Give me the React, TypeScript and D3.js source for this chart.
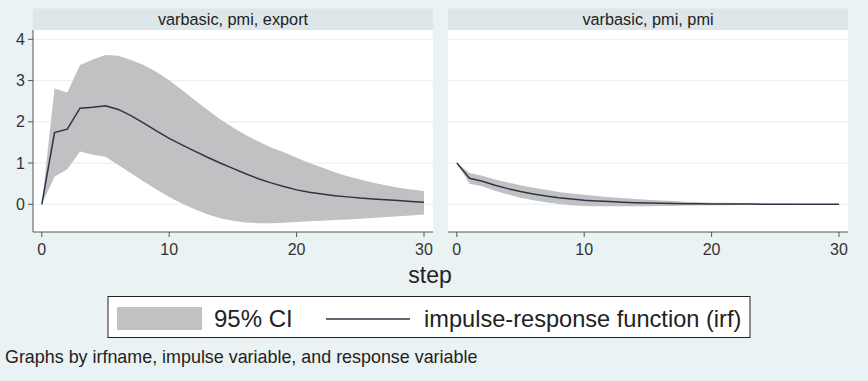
import React from "react";
import * as d3 from "d3";

const steps = d3.range(0, 31);

const exportIrf = [0, 1.74, 1.82, 2.33, 2.35, 2.39, 2.3, 2.15, 1.97, 1.78, 1.6, 1.44, 1.29, 1.14, 1.0, 0.87, 0.74, 0.62, 0.52, 0.43, 0.35, 0.29, 0.25, 0.21, 0.18, 0.15, 0.13, 0.11, 0.09, 0.07, 0.05];
const exportLo = [0, 0.67, 0.85, 1.28, 1.2, 1.15, 0.95, 0.75, 0.55, 0.36, 0.18, 0.02, -0.12, -0.24, -0.34, -0.4, -0.44, -0.46, -0.46, -0.45, -0.43, -0.41, -0.4, -0.38, -0.37, -0.35, -0.33, -0.31, -0.29, -0.27, -0.25];
const exportHi = [0, 2.81, 2.71, 3.38, 3.51, 3.62, 3.6, 3.5, 3.38, 3.21, 3.01, 2.77, 2.53, 2.29, 2.06, 1.86, 1.68, 1.52, 1.38, 1.26, 1.13, 1.0, 0.89, 0.78, 0.68, 0.6, 0.52, 0.46, 0.4, 0.36, 0.32];

const pmiIrf = [1.0, 0.63, 0.56, 0.46, 0.38, 0.31, 0.25, 0.2, 0.16, 0.13, 0.1, 0.08, 0.065, 0.05, 0.04, 0.03, 0.025, 0.02, 0.015, 0.012, 0.01, 0.008, 0.006, 0.005, 0.004, 0.003, 0.002, 0.002, 0.001, 0.001, 0.001];
const pmiLo = [1.0, 0.5, 0.44, 0.33, 0.24, 0.16, 0.1, 0.05, 0.01, -0.02, -0.04, -0.05, -0.05, -0.05, -0.05, -0.05, -0.04, -0.04, -0.03, -0.03, -0.02, -0.02, -0.015, -0.012, -0.01, -0.008, -0.006, -0.005, -0.004, -0.003, -0.002];
const pmiHi = [1.0, 0.76, 0.69, 0.6, 0.53, 0.46, 0.4, 0.35, 0.3, 0.26, 0.23, 0.2, 0.17, 0.15, 0.13, 0.11, 0.09, 0.08, 0.06, 0.05, 0.04, 0.035, 0.03, 0.025, 0.02, 0.015, 0.012, 0.01, 0.008, 0.006, 0.005];

const xTicks = [0, 10, 20, 30];
const yTicks = [0, 1, 2, 3, 4];

const panels = [
  { title: "varbasic, pmi, export", irf: exportIrf, lo: exportLo, hi: exportHi, left: 33, showY: true },
  { title: "varbasic, pmi, pmi", irf: pmiIrf, lo: pmiLo, hi: pmiHi, left: 448, showY: false },
];

const BG = "#eaf2f3";
const STRIP = "#dde6e8";
const CI = "#c1c1c3";
const LINE = "#2a3646";
const AXIS = "#555";
const FONT = "'Liberation Sans', Arial, sans-serif";

const PW = 400;
const plotTop = 30;
const plotBottom = 232;

export default function App() {
  const y = d3.scaleLinear().domain([0, 4]).range([204.3, 39.3]);
  return (
    <div style={{ position: "fixed", left: 0, top: 0 }}>
      <svg width={868} height={381} style={{ display: "block", fontFamily: FONT }}>
        <rect x={0} y={0} width={868} height={381} fill={BG} />
        {panels.map((p, pi) => {
          const x = d3.scaleLinear().domain([0, 30]).range([p.left + 8.8, p.left + 391]);
          const area = d3
            .area<number>()
            .x((i) => x(steps[i]))
            .y0((i) => y(p.lo[i]))
            .y1((i) => y(p.hi[i]));
          const line = d3
            .line<number>()
            .x((i) => x(steps[i]))
            .y((i) => y(p.irf[i]));
          const idx = steps.map((_, i) => i);
          return (
            <g key={pi}>
              <rect x={p.left} y={8.5} width={PW} height={21.5} fill={STRIP} />
              <text x={p.left + PW / 2} y={24.5} textAnchor="middle" fontSize={16.3} fill="#222">
                {p.title}
              </text>
              <rect x={p.left} y={plotTop} width={PW} height={plotBottom - plotTop} fill="#fff" />
              {yTicks.map((t) => (
                <line key={t} x1={p.left} x2={p.left + PW} y1={y(t)} y2={y(t)} stroke={BG} strokeWidth={1.2} />
              ))}
              <path d={area(idx) || ""} fill={CI} />
              <path d={line(idx) || ""} fill="none" stroke={LINE} strokeWidth={1.5} />
              <line x1={p.left} x2={p.left + PW} y1={plotBottom} y2={plotBottom} stroke={AXIS} strokeWidth={1} />
              {xTicks.map((t) => (
                <g key={t}>
                  <line x1={x(t)} x2={x(t)} y1={plotBottom} y2={plotBottom + 5} stroke={AXIS} />
                  <text x={x(t)} y={255} textAnchor="middle" fontSize={16} fill="#333">
                    {t}
                  </text>
                </g>
              ))}
              {p.showY && (
                <g>
                  <line x1={p.left} x2={p.left} y1={plotTop} y2={plotBottom} stroke={AXIS} />
                  {yTicks.map((t) => (
                    <g key={t}>
                      <line x1={p.left - 5} x2={p.left} y1={y(t)} y2={y(t)} stroke={AXIS} />
                      <text x={p.left - 8} y={y(t) + 5.5} textAnchor="end" fontSize={16} fill="#333">
                        {t}
                      </text>
                    </g>
                  ))}
                </g>
              )}
            </g>
          );
        })}
        <text x={430} y={283} textAnchor="middle" fontSize={23} fill="#222">
          step
        </text>
        <rect x={108} y={296.5} width={642} height={41} fill="#fff" stroke="#222" strokeWidth={1} />
        <rect x={117} y={307} width={85} height={23} fill={CI} />
        <text x={214} y={327} fontSize={24} fill="#222">
          95% CI
        </text>
        <line x1={326} x2={410} y1={319} y2={319} stroke={LINE} strokeWidth={1.5} />
        <text x={424} y={327} fontSize={23.6} fill="#222">
          impulse-response function (irf)
        </text>
        <text x={5} y={363} fontSize={17.9} fill="#222">
          Graphs by irfname, impulse variable, and response variable
        </text>
      </svg>
    </div>
  );
}
